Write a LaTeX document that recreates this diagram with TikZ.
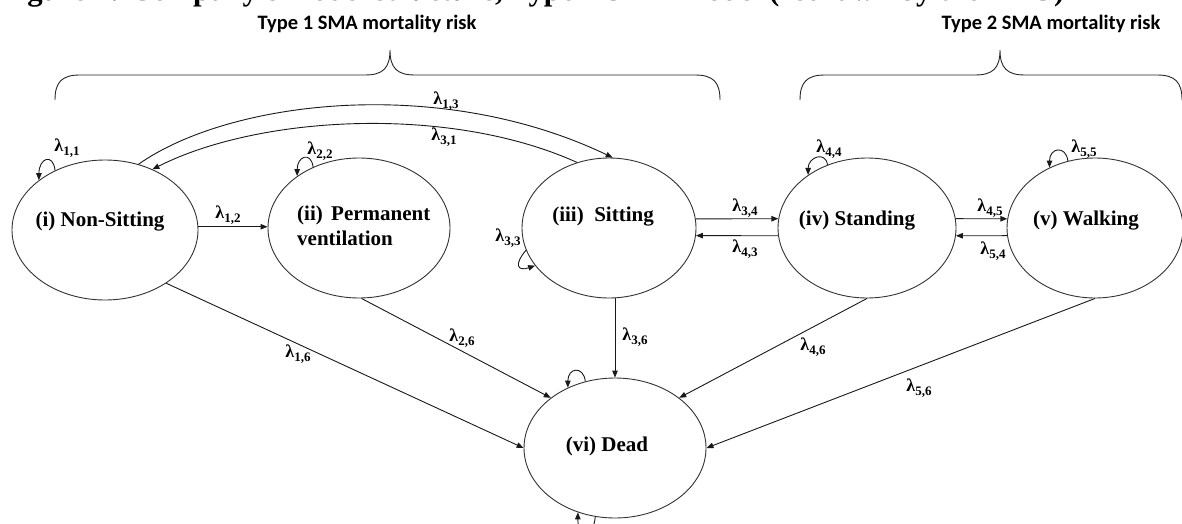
\documentclass[tikz,border=0pt]{standalone}
\usepackage{fontspec}
\setmainfont{Liberation Serif}
\newfontfamily\calib{Carlito}
\usetikzlibrary{arrows.meta,shapes.geometric}
\newcommand{\lmb}[1]{\bfseries\fontsize{18}{18}\selectfont λ\raisebox{-4.5pt}{\fontsize{13}{13}\selectfont #1}}
\begin{document}
\begin{tikzpicture}[x=1pt,y=-1pt,
  state/.style={draw=black!80, ellipse, line width=0.9pt, inner sep=0pt},
  txt/.style={font=\bfseries\fontsize{21}{25}\selectfont, inner sep=0pt},
  lab/.style={inner sep=0pt},
  edge/.style={draw=black!90, line width=0.9pt, -{Triangle[length=7pt,width=5.5pt]}},
  brace/.style={draw=black!85, line width=0.9pt},
  ttl/.style={font=\calib\bfseries\fontsize{20.5}{24}\selectfont, inner sep=0pt}]
\useasboundingbox (0,0) rectangle (1182,524);
\clip (0,0) rectangle (1182,524);
\fill[white] (0,0) rectangle (1182,524);

% clipped caption
\node[anchor=base west, font=\bfseries\fontsize{30.7}{32}\selectfont, inner sep=0pt] (cap) at (0,0.5) {Figure 4: Company’s model structure, Type 1 SMA model (redrawn by the ERG)};

% titles and braces
\node[ttl] (T1) at (367,24) {Type 1 SMA mortality risk};
\node[ttl] (T2) at (1051,24) {Type 2 SMA mortality risk};
\draw[brace] (55,100) .. controls (55,82) and (62,75) .. (80,75) -- (365,75)
  .. controls (383,75) and (390,68) .. (390,50)
  .. controls (390,68) and (397,75) .. (415,75) -- (695,75)
  .. controls (713,75) and (720,82) .. (720,100);
\draw[brace] (800,100) .. controls (800,82) and (807,75) .. (825,75) -- (975,75)
  .. controls (993,75) and (1000,68) .. (1000,50)
  .. controls (1000,68) and (1007,75) .. (1025,75) -- (1157,75)
  .. controls (1175,75) and (1182,82) .. (1182,100);

% states
\node[state, minimum width=186pt, minimum height=140pt] (A) at (105,230) {};
\node[state, minimum width=182pt, minimum height=140pt] (B) at (359,228) {};
\node[state, minimum width=174pt, minimum height=140pt] (C) at (609,228) {};
\node[state, minimum width=178pt, minimum height=140pt] (D) at (867,228) {};
\node[state, minimum width=176pt, minimum height=140pt] (E) at (1095,228) {};
\node[state, minimum width=182pt, minimum height=140pt] (F) at (615,448) {};

\node[txt] (At) at (100,222) {(i) Non-Sitting};
\node[txt, align=left, anchor=west] (Bt) at (297,226) {(ii)\hspace{0.4em}Permanent\\ventilation};
\node[txt] (Ct) at (603,217) {(iii)\hspace{0.5em}Sitting};
\node[txt] (Dt) at (857,221) {(iv) Standing};
\node[txt] (Et) at (1086,221) {(v) Walking};
\node[txt] (Ft) at (607,446) {(vi) Dead};

% transitions
\draw[edge] (A.2) -- (A.2 -| B.west);
\draw[edge] (C.6) -- (D.174);
\draw[edge] (D.185) -- (C.355);
\draw[edge] (D.6) -- (E.174);
\draw[edge] (E.185) -- (D.355);
\draw[edge] (A.63) .. controls (230,100) and (440,75) .. (C.87);
\draw[edge] (C.116) .. controls (450,105) and (260,115) .. (A.52);
\draw[edge] (A.319) -- (F.west);
\draw[edge] (B.272) -- (F.142);
\draw[edge] (C.south -| F.north) -- (F.north);
\draw[edge] (D.south) -- (F.38);
\draw[edge] (E.south) -- (F.east);

% self loops
\draw[edge] (A.130) .. controls +(-2,-18) and +(0,-22) .. (A.143);
\draw[edge] (B.127) .. controls +(-2,-16) and +(0,-20) .. (B.140);
\draw[edge] (C.195) .. controls +(-12,14) and +(-18,6) .. (C.207);
\draw[edge] (D.122) .. controls +(-2,-14) and +(0,-18) .. (D.138);
\draw[edge] (E.112) .. controls +(-2,-16) and +(0,-20) .. (E.127);
\draw[edge] (F.114) .. controls +(-2,-16) and +(0,-20) .. (F.128);
\draw[edge] (F.254) .. controls +(-2,22) and +(0,26) .. (F.240);

% labels
\node[lab] (l11) at (67,148) {\lmb{1,1}};
\node[lab] (l12) at (228,215) {\lmb{1,2}};
\node[lab] (l22) at (320,151) {\lmb{2,2}};
\node[lab] (l13) at (446,101) {\lmb{1,3}};
\node[lab] (l31) at (444,137) {\lmb{3,1}};
\node[lab] (l33) at (508,238) {\lmb{3,3}};
\node[lab] (l34) at (745,208) {\lmb{3,4}};
\node[lab] (l43) at (745,249) {\lmb{4,3}};
\node[lab] (l44) at (829,149) {\lmb{4,4}};
\node[lab] (l45) at (990,208) {\lmb{4,5}};
\node[lab] (l54) at (993,251) {\lmb{5,4}};
\node[lab] (l55) at (1084,149) {\lmb{5,5}};
\node[lab] (l16) at (298,354) {\lmb{1,6}};
\node[lab] (l26) at (462,338) {\lmb{2,6}};
\node[lab] (l36) at (635,337) {\lmb{3,6}};
\node[lab] (l46) at (813,347) {\lmb{4,6}};
\node[lab] (l56) at (919,388) {\lmb{5,6}};
\end{tikzpicture}
\end{document}
